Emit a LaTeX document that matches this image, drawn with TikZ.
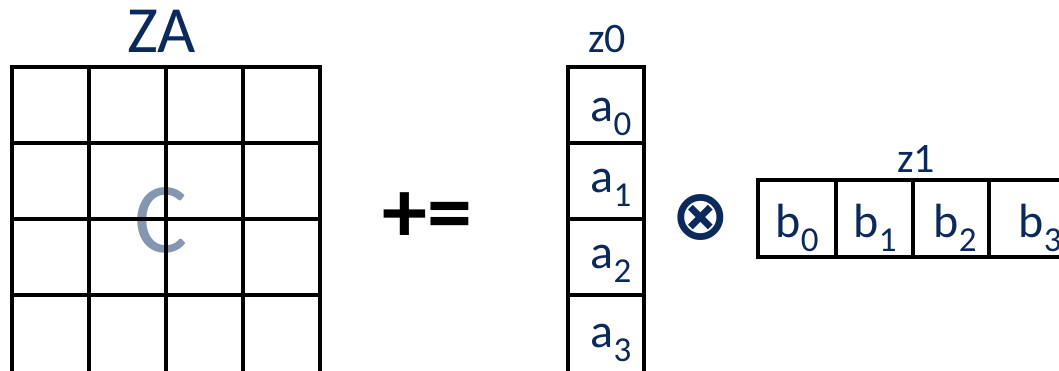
\documentclass[tikz,border=0pt]{standalone}
\usepackage{fontspec}
\setmainfont{Carlito}
\newfontfamily\symfont{DejaVu Sans}
\definecolor{navy}{HTML}{0B2A5B}
\definecolor{cgray}{HTML}{8496B0}
\newcommand{\sublbl}[2]{\fontsize{48}{48}\selectfont #1\raisebox{-14pt}{\fontsize{35}{35}\selectfont #2}}
\begin{document}
\begin{tikzpicture}[x=1pt,y=-1pt,
  gridline/.style={line width=4.5pt, line cap=rect, black},
  cellbox/.style={line width=4.5pt, black},
  lbl/.style={text=navy, anchor=base, inner sep=0pt},
  title/.style={text=navy, anchor=base, inner sep=0pt, font=\fontsize{66}{66}\selectfont},
  small/.style={text=navy, anchor=base, inner sep=0pt, font=\fontsize{42}{42}\selectfont}]
\clip (0,0) rectangle (1059,371);
% big C under grid
\node[text=cgray, inner sep=0pt, font=\fontsize{100}{100}\selectfont] (cc) at (161,220) {C};
% ZA grid
\foreach \x in {12,89,166,243,320} \draw[gridline] (\x,67) -- (\x,390);
\foreach \y in {67,143,219,295} \draw[gridline] (12,\y) -- (320,\y);
\node[title] (za) at (161.5,52.5) {ZA};
% +=
\node[inner sep=0pt, font=\bfseries\fontsize{90}{90}\selectfont] (pe) at (427,218) {+=};
% z0 column
\draw[cellbox] (568,390) -- (568,67) -- (644,67) -- (644,390);
\foreach \y in {143,219,295} \draw[cellbox] (568,\y) -- (644,\y);
\node[small] (z0) at (607,53) {z0};
\node[lbl] (a0) at (611,122) {\sublbl{a}{0}};
\node[lbl] (a1) at (611,193) {\sublbl{a}{1}};
\node[lbl] (a2) at (611,268) {\sublbl{a}{2}};
\node[lbl] (a3) at (611,347) {\sublbl{a}{3}};
% otimes
\node[text=navy, inner sep=0pt, font=\symfont\bfseries\fontsize{70}{70}\selectfont] (ot) at (701,218) {⊗};
% z1 row
\draw[cellbox] (1080,180) -- (758,180) -- (758,257) -- (1080,257);
\foreach \x in {836,913,989} \draw[cellbox] (\x,180) -- (\x,257);
\node[small] (z1) at (916,173) {z1};
\node[lbl] (b0) at (797,237) {\sublbl{b}{0}};
\node[lbl] (b1) at (875,237) {\sublbl{b}{1}};
\node[lbl] (b2) at (955,237) {\sublbl{b}{2}};
\node[lbl] (b3) at (1040,237) {\sublbl{b}{3}};
\end{tikzpicture}
\end{document}
